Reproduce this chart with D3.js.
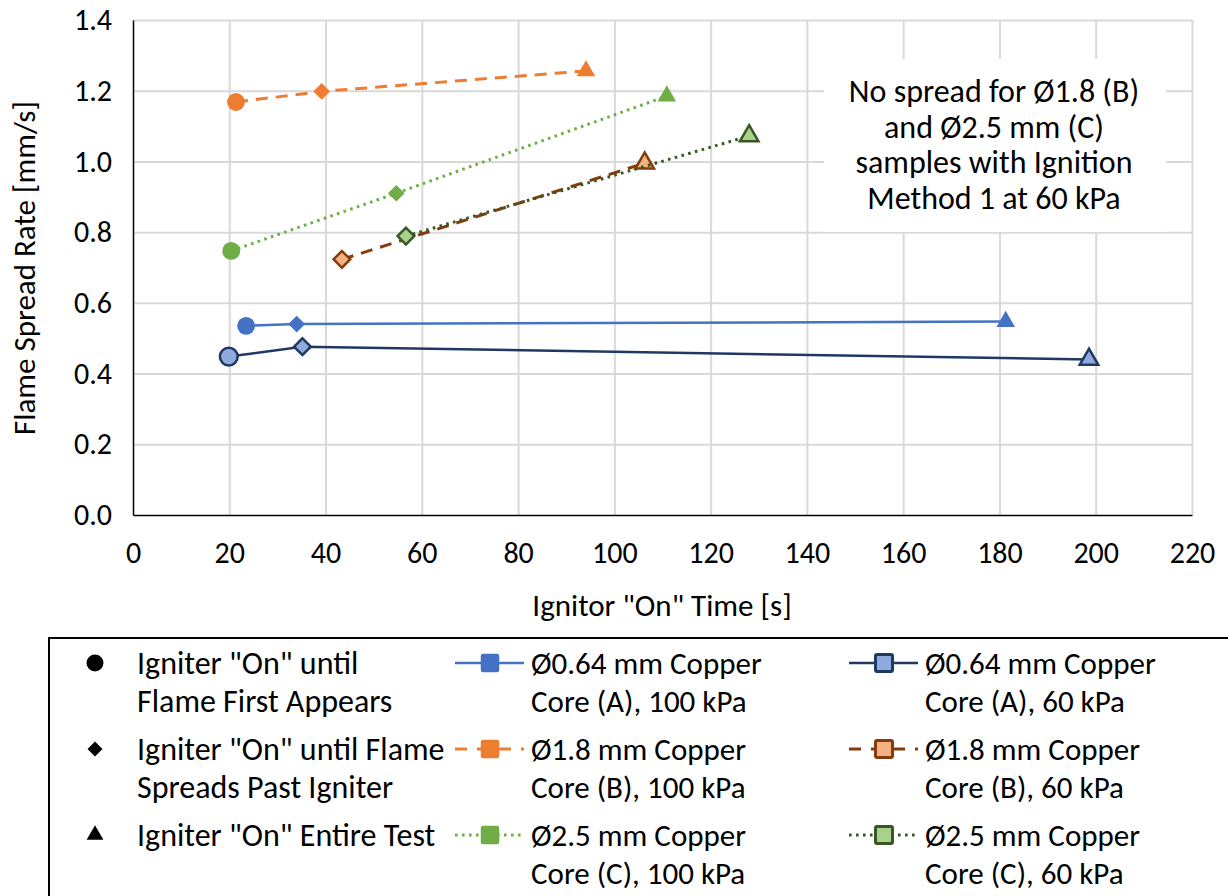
<!DOCTYPE html>
<meta charset="utf-8">
<head>
    <style>
        body { margin: 0; background: #fff; }
        text { font-family: Carlito, Calibri, Lato, sans-serif; fill: #000; }
        .grid line { stroke: #d9d9d9; stroke-width: 2; }
        .tick text { font-size: 30px; }
    </style>
    <script src="https://d3js.org/d3.v7.min.js"></script>
</head>
<body>
<svg id="chart"></svg>
<script>

    var width = 1228, height = 896;
    var margin = {top: 20, right: 36, bottom: 381, left: 133};

    // series, in legend order
    var seriesNames = ["Ø0.64 mm Copper|Core (A), 100 kPa", "Ø1.8 mm Copper|Core (B), 100 kPa", "Ø2.5 mm Copper|Core (C), 100 kPa",
                       "Ø0.64 mm Copper|Core (A), 60 kPa", "Ø1.8 mm Copper|Core (B), 60 kPa", "Ø2.5 mm Copper|Core (C), 60 kPa"];
    var seriesX = [[23.5, 34.0, 181.3], [21.4, 39.2, 94.1], [20.4, 54.7, 110.9],
                   [19.9, 35.2, 198.6], [43.4, 106.3], [56.7, 128.0]];
    var seriesY = [[0.535, 0.540, 0.547], [1.168, 1.198, 1.256], [0.747, 0.910, 1.185],
                   [0.448, 0.476, 0.440], [0.723, 0.995], [0.789, 1.072]];
    // 0 = flame first appears, 1 = spreads past igniter, 2 = entire test
    var seriesMethod = [[0, 1, 2], [0, 1, 2], [0, 1, 2], [0, 1, 2], [1, 2], [1, 2]];

    var methodNames = ["Igniter \"On\" until|Flame First Appears", "Igniter \"On\" until Flame|Spreads Past Igniter", "Igniter \"On\" Entire Test"];
    var xTicks = [0, 20, 40, 60, 80, 100, 120, 140, 160, 180, 200, 220];
    var yTicks = [0, 0.2, 0.4, 0.6, 0.8, 1.0, 1.2, 1.4];
    var noteLines = ["No spread for Ø1.8 (B)", "and Ø2.5 mm (C)", "samples with Ignition", "Method 1 at 60 kPa"];

    var lineColor = ["#4472c4", "#ed7d31", "#70ad47", "#203864", "#843c0c", "#385723"];
    var markFill  = ["#4472c4", "#ed7d31", "#70ad47", "#8faadc", "#f4b183", "#a9d18e"];
    var dash      = [null, "12,8", "2.6,4.4", null, "12,8", "2.6,4.4"];
    var lineW     = [2.5, 3, 3, 2.5, 3, 3];

    var symbols = [d3.symbol().type(d3.symbolCircle).size(250),
                   d3.symbol().type(d3.symbolSquare).size(140),
                   d3.symbol().type(d3.symbolTriangle).size(150)];
    var symbolRot = [0, 45, 0];

    var svg = d3.select("#chart").attr("width", width).attr("height", height);

    var x = d3.scaleLinear().domain([0, 220]).range([margin.left, width - margin.right]);
    var y = d3.scaleLinear().domain([0, 1.4]).range([height - margin.bottom, margin.top]);

    // gridlines
    svg.append("g").attr("class", "grid")
        .attr("transform", "translate(0," + y(0) + ")")
        .call(d3.axisBottom(x).tickValues(xTicks.slice(1)).tickSize(-(y(0) - y(1.4))).tickFormat(""))
        .call(g => g.select(".domain").remove());
    svg.append("g").attr("class", "grid")
        .attr("transform", "translate(" + x(0) + ",0)")
        .call(d3.axisLeft(y).tickValues(yTicks.slice(1)).tickSize(-(x(220) - x(0))).tickFormat(""))
        .call(g => g.select(".domain").remove());

    // note box (white, covers the grid)
    var note = svg.append("g");
    note.append("rect").attr("x", 824).attr("y", 59).attr("width", 342).attr("height", 173).attr("fill", "#fff");
    note.selectAll("text").data(noteLines).enter().append("text")
        .attr("x", 994).attr("y", (d, i) => 91 + i * 35.5).attr("dy", "0.35em")
        .attr("text-anchor", "middle").style("font-size", "32px")
        .text(d => d);

    // axes
    var xAxis = svg.append("g")
        .attr("transform", "translate(0," + y(0) + ")")
        .call(d3.axisBottom(x).tickValues(xTicks).tickSize(0).tickPadding(27).tickFormat(d3.format("d")));
    xAxis.select(".domain").attr("stroke", "#000").attr("stroke-width", 1.5);

    var yAxis = svg.append("g")
        .attr("transform", "translate(" + x(0) + ",0)")
        .call(d3.axisLeft(y).tickValues(yTicks).tickSize(0).tickPadding(21).tickFormat(d3.format(".1f")));
    yAxis.select(".domain").attr("stroke", "#000").attr("stroke-width", 1.5);
    svg.selectAll(".tick text").attr("fill", "#000");

    svg.append("text").attr("transform", "translate(24,268) rotate(-90)").attr("dy", "0.35em")
        .attr("text-anchor", "middle").style("font-size", "31px")
        .text("Flame Spread Rate [mm/s]");
    svg.append("text").attr("x", 662).attr("y", 605).attr("dy", "0.35em")
        .attr("text-anchor", "middle").style("font-size", "31px")
        .text("Ignitor \"On\" Time [s]");

    // series lines and markers
    var line = d3.line().x(d => x(d[0])).y(d => y(d[1]));

    seriesX.forEach(function(xs, s) {
        var pts = xs.map((v, i) => [v, seriesY[s][i], seriesMethod[s][i]]);
        var g = svg.append("g");
        g.append("path").datum(pts).attr("d", line)
            .attr("fill", "none").attr("stroke", lineColor[s]).attr("stroke-width", lineW[s])
            .attr("stroke-dasharray", dash[s]);
        g.selectAll("path.mark").data(pts).enter().append("path")
            .attr("class", "mark")
            .attr("d", d => symbols[d[2]]())
            .attr("transform", d => "translate(" + x(d[0]) + "," + y(d[1]) + ") rotate(" + symbolRot[d[2]] + ")")
            .attr("fill", markFill[s])
            .attr("stroke", s < 3 ? "none" : lineColor[s]).attr("stroke-width", 2.5);
    });

    // legend
    var leg = svg.append("g");
    leg.append("rect").attr("x", 49).attr("y", 638).attr("width", 1200).attr("height", 280)
        .attr("fill", "#fff").attr("stroke", "#000").attr("stroke-width", 2);

    var rowY = [663, 749, 835];
    var lineGap = 38;

    methodNames.forEach(function(name, i) {
        leg.append("path").attr("d", symbols[i]())
            .attr("transform", "translate(95," + rowY[i] + ") rotate(" + symbolRot[i] + ") scale(" + (i == 0 ? 0.95 : 0.9) + ")")
            .attr("fill", "#000");
        name.split("|").forEach(function(t, k) {
            leg.append("text").attr("x", 137).attr("y", rowY[i] + k * lineGap).attr("dy", "0.35em")
                .style("font-size", "32px").text(t);
        });
    });

    var colX = [455, 849];
    seriesNames.forEach(function(name, s) {
        var c = Math.floor(s / 3), r = s % 3;
        var x0 = colX[c], yy = rowY[r];
        leg.append("line").attr("x1", x0).attr("x2", x0 + 69).attr("y1", yy).attr("y2", yy)
            .attr("stroke", lineColor[s]).attr("stroke-width", lineW[s])
            .attr("stroke-dasharray", dash[s] == "12,8" ? "12,10" : dash[s]);
        leg.append("rect").attr("x", x0 + 35 - 8.5).attr("y", yy - 8.5).attr("width", 17).attr("height", 17)
            .attr("rx", 1.5)
            .attr("fill", markFill[s])
            .attr("stroke", s < 3 ? markFill[s] : lineColor[s]).attr("stroke-width", s < 3 ? 1.5 : 3);
        name.split("|").forEach(function(t, k) {
            leg.append("text").attr("x", x0 + 76).attr("y", yy + k * lineGap).attr("dy", "0.35em")
                .style("font-size", "31px").text(t);
        });
    });

</script>
</body>
</html>
